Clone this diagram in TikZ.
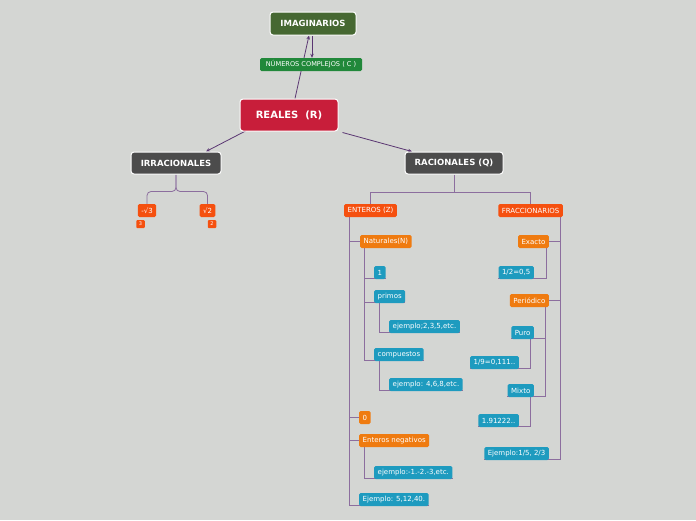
\documentclass[tikz,border=0pt]{standalone}
\usepackage{fontspec}
\setmainfont{DejaVu Sans}
\usetikzlibrary{arrows.meta}
\pgfdeclarelayer{background}
\pgfsetlayers{background,main}

\definecolor{bgc}{HTML}{D4D6D3}
\definecolor{imagc}{HTML}{466832}
\definecolor{complc}{HTML}{21883A}
\definecolor{realc}{HTML}{C81E3A}
\definecolor{greyc}{HTML}{4C4C4C}
\definecolor{redc}{HTML}{F5500F}
\definecolor{orangec}{HTML}{EF7B10}
\definecolor{tealc}{HTML}{1E9BBF}
\definecolor{linkc}{HTML}{5A3672}
\definecolor{treec}{HTML}{8C6E9E}

\begin{document}
\begin{tikzpicture}[
  x=1pt, y=-1pt,
  title/.style={rectangle, rounded corners=3pt, draw=white, line width=1pt, text=white,
    font=\bfseries\fontsize{8.5}{9}\selectfont, fill=greyc, minimum height=22pt, align=center},
  small/.style={rectangle, rounded corners=1.5pt, text=white, font=\fontsize{7}{8}\selectfont,
    minimum height=13pt, inner xsep=3.5pt, inner ysep=0pt},
  teal/.style={small, fill=tealc},
  orng/.style={small, fill=orangec},
  redor/.style={small, fill=redc},
  badge/.style={rectangle, rounded corners=1pt, fill=redc, text=white, font=\fontsize{5}{5}\selectfont,
    minimum width=8.5pt, minimum height=8pt, inner sep=0pt},
  arrow/.style={-{Stealth[length=4pt,width=3.5pt]}, draw=linkc, line width=0.8pt},
  tree/.style={draw=treec, line width=0.8pt}
]
\useasboundingbox (0,0) rectangle (696,520);

% Top
\node[title, fill=imagc, minimum width=86pt, minimum height=23pt] (imag) at (313,23.5) {IMAGINARIOS};
\node[small, fill=complc, font=\fontsize{6.6}{7}\selectfont, minimum width=102pt] (compl) at (311,64.5) {NÚMEROS COMPLEJOS ( C )};
\node[title, fill=realc, font=\bfseries\fontsize{10}{12}\selectfont, minimum width=98pt, minimum height=32pt] (reales) at (289,115) {REALES\ \ (R)};

% Level 1
\node[title, minimum width=90pt] (irr) at (176,163) {IRRACIONALES};
\node[title, minimum width=98pt] (rac) at (454,163) {RACIONALES (Q)};

% Irracionales
\node[redor] (msqrt) at (147,210.5) {-√3};
\node[redor] (sqrt) at (207.5,210.5) {√2};
\node[badge] (bthree) at (140.5,224) {3};
\node[badge] (btwo) at (212,224) {2};

% Racionales
\node[redor, anchor=west] (ent) at (344,210.5) {ENTEROS (Z)};
\node[redor, anchor=east] (frac) at (563,210.5) {FRACCIONARIOS};

% Enteros
\node[orng, anchor=west] (nat) at (360,241.5) {Naturales(N)};
\node[teal, anchor=west] (one) at (374,272.5) {1};
\node[teal, anchor=west] (primos) at (374,296.5) {primos};
\node[teal, anchor=west] (ejprim) at (389,326.5) {ejemplo;2,3,5,etc.};
\node[teal, anchor=west] (comp) at (374,354.5) {compuestos};
\node[teal, anchor=west] (ejcomp) at (389,384.5) {ejemplo: 4,6,8,etc.};
\node[orng, anchor=west] (zero) at (359,417.5) {0};
\node[orng, anchor=west] (neg) at (359,440.5) {Enteros negativos};
\node[teal, anchor=west] (ejneg) at (374,472.5) {ejemplo:-1.-2.-3,etc.};
\node[teal, anchor=west] (ejent) at (359,499.5) {Ejemplo: 5,12,40.};

% Fraccionarios
\node[orng, anchor=east] (exacto) at (549,241.5) {Exacto};
\node[teal, anchor=east] (half) at (534,272.5) {1/2=0,5};
\node[orng, anchor=east] (period) at (549,300.5) {Periódico};
\node[teal, anchor=east] (puro) at (534,332.5) {Puro};
\node[teal, anchor=east] (ninth) at (519,362.5) {1/9=0,111..};
\node[teal, anchor=east] (mixto) at (534,390.5) {Mixto};
\node[teal, anchor=east] (ejmix) at (519,420.5) {1.91222..};
\node[teal, anchor=east] (ejfrac) at (549,453.5) {Ejemplo:1/5, 2/3};

\begin{pgfonlayer}{background}
\fill[bgc] (0,0) rectangle (696,520);

% Arrows
\draw[arrow] ([xshift=6pt]reales.north) -- ([xshift=-4pt]imag.south);
\draw[arrow] ([xshift=-1pt]imag.south) -- ([xshift=1pt]compl.north);
\draw[arrow] ([xshift=7pt,yshift=1pt]reales.south west) -- ([xshift=30pt]irr.north);
\draw[arrow] ([xshift=4pt,yshift=-1pt]reales.south east) -- ([xshift=-42pt]rac.north);

% Trees
\draw[tree, rounded corners=4pt] (irr.south) -- ++(0,17) -| (msqrt.north);
\draw[tree, rounded corners=4pt] (irr.south) -- ++(0,17) -| (sqrt.north);
\draw[tree] (rac.south) -- ++(0,18) -| (ent.north);
\draw[tree] (rac.south) -- ++(0,18) -| (frac.north);

\draw[tree] ([xshift=5pt]ent.south west) |- (nat.west);
\draw[tree] ([xshift=5pt]ent.south west) |- (zero.west);
\draw[tree] ([xshift=5pt]ent.south west) |- (neg.west);
\draw[tree] ([xshift=5pt]ent.south west) |- ([yshift=0.5pt]ejent.south east);
\draw[tree] ([xshift=4pt]nat.south west) |- ([yshift=0.5pt]one.south east);
\draw[tree] ([xshift=4pt]nat.south west) |- ([yshift=0.5pt]primos.south east);
\draw[tree] ([xshift=4pt]nat.south west) |- ([yshift=0.5pt]comp.south east);
\draw[tree] ([xshift=5pt]primos.south west) |- ([yshift=0.5pt]ejprim.south east);
\draw[tree] ([xshift=5pt]comp.south west) |- ([yshift=0.5pt]ejcomp.south east);
\draw[tree] ([xshift=5pt]neg.south west) |- ([yshift=0.5pt]ejneg.south east);

\draw[tree] ([xshift=-3pt]frac.south east) |- (exacto.east);
\draw[tree] ([xshift=-3pt]frac.south east) |- (period.east);
\draw[tree] ([xshift=-3pt]frac.south east) |- ([yshift=0.5pt]ejfrac.south west);
\draw[tree] ([xshift=-3pt]exacto.south east) |- ([yshift=0.5pt]half.south west);
\draw[tree] ([xshift=-4pt]period.south east) |- ([yshift=0.5pt]puro.south west);
\draw[tree] ([xshift=-4pt]period.south east) |- ([yshift=0.5pt]mixto.south west);
\draw[tree] ([xshift=-4pt]puro.south east) |- ([yshift=0.5pt]ninth.south west);
\draw[tree] ([xshift=-4pt]mixto.south east) |- ([yshift=0.5pt]ejmix.south west);
\end{pgfonlayer}

\end{tikzpicture}
\end{document}
